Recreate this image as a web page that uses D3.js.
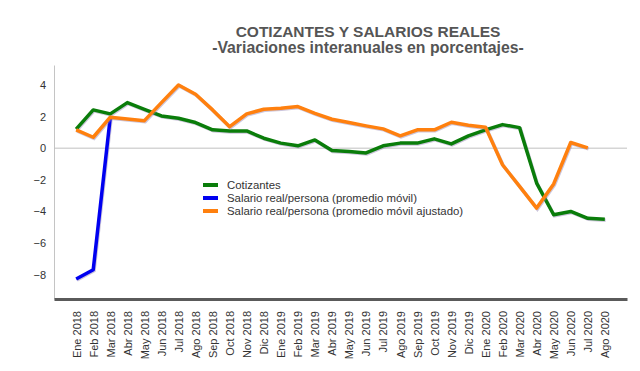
<!DOCTYPE html>
<html>
<head>
<meta charset="utf-8">
<script src="https://cdn.jsdelivr.net/npm/d3@7"></script>
<style>
  body { margin: 0; background: #fff; }
  svg { font-family: Arial, "Liberation Sans", sans-serif; }
  .title { font-weight: bold; fill: #555; }
  .tick text { fill: #333; font-size: 11px; }
  .legend text { fill: #333; font-size: 11.4px; }
</style>
</head>
<body>
<svg width="640" height="371"></svg>
<script>
// months on the x axis
const months = ['Ene 2018','Feb 2018','Mar 2018','Abr 2018','May 2018','Jun 2018','Jul 2018','Ago 2018','Sep 2018','Oct 2018','Nov 2018','Dic 2018',
  'Ene 2019','Feb 2019','Mar 2019','Abr 2019','May 2019','Jun 2019','Jul 2019','Ago 2019','Sep 2019','Oct 2019','Nov 2019','Dic 2019',
  'Ene 2020','Feb 2020','Mar 2020','Abr 2020','May 2020','Jun 2020','Jul 2020','Ago 2020']

// series values
const cotizantes = [1.2, 2.42, 2.17, 2.88, 2.46, 2.04, 1.89, 1.62, 1.16, 1.09, 1.09, 0.63,
  0.32, 0.15, 0.52, -0.15, -0.21, -0.3, 0.15, 0.32, 0.32, 0.59, 0.27, 0.78,
  1.16, 1.49, 1.3, -2.21, -4.21, -4.0, -4.44, -4.49]

const salarioMovil = [-8.28, -7.69, 1.96, null, null, null, null, null, null, null, null, null,
  null, null, null, null, null, null, null, null, null, null, null, null,
  null, null, null, null, null, null, null, null]

const salarioAjustado = [1.16, 0.69, 1.96, 1.85, 1.74, 2.88, 4.0, 3.41, 2.42, 1.36, 2.17, 2.46,
  2.53, 2.63, 2.2, 1.83, 1.62, 1.41, 1.22, 0.78, 1.16, 1.16, 1.64, 1.45,
  1.33, -1.05, -2.42, -3.79, -2.26, 0.36, 0.02, null]

const yTicks = [-8, -6, -4, -2, 0, 2, 4]

const series = [
  {name: 'Cotizantes', values: cotizantes, color: '#0a7d0a'},
  {name: 'Salario real/persona (promedio móvil)', values: salarioMovil, color: '#0000f0'},
  {name: 'Salario real/persona (promedio móvil ajustado)', values: salarioAjustado, color: '#ff800e'}
]

const svg = d3.select('svg')

const plot = {left: 54, right: 627, top: 65, bottom: 299}

const x = d3.scalePoint()
  .domain(months)
  .range([plot.left, plot.right])
  .padding(1.3)

const y = d3.scaleLinear()
  .domain([-9.54, 5.26])
  .range([plot.bottom, plot.top])

// title
svg.append('text')
  .attr('class', 'title')
  .attr('x', 368).attr('y', 37)
  .attr('text-anchor', 'middle')
  .style('font-size', '15.5px')
  .text('COTIZANTES Y SALARIOS REALES')

svg.append('text')
  .attr('class', 'title')
  .attr('x', 368).attr('y', 53)
  .attr('text-anchor', 'middle')
  .style('font-size', '15.8px')
  .text('-Variaciones interanuales en porcentajes-')

// y axis
const yAxis = svg.append('g')
  .attr('transform', `translate(${plot.left},0)`)
  .call(d3.axisLeft(y).tickValues(yTicks).tickSize(0).tickPadding(8))

yAxis.select('.domain').attr('stroke', '#c4c4c4').attr('stroke-width', 1)

// zero line
svg.append('line')
  .attr('x1', plot.left).attr('x2', plot.right)
  .attr('y1', y(0)).attr('y2', y(0))
  .attr('stroke', '#c0c0c0')

// x axis
const xAxis = svg.append('g')
  .attr('transform', `translate(0,${plot.bottom})`)
  .call(d3.axisBottom(x).tickSize(0).tickPadding(0))

xAxis.select('.domain').attr('stroke', '#5a5a5a').attr('stroke-width', 3)
xAxis.selectAll('.tick text')
  .attr('transform', 'rotate(-90)')
  .attr('text-anchor', 'end')
  .attr('x', -12)
  .attr('y', 0)
  .attr('dy', '0.35em')

// lines
const line = d3.line()
  .defined(d => d != null)
  .x((d, i) => x(months[i]))
  .y(d => y(d))

const lines = svg.append('g')

series.forEach(s => {
  // faint shadow under each line
  lines.append('path')
    .attr('d', line(s.values))
    .attr('fill', 'none')
    .attr('stroke', '#8f7fb0')
    .attr('stroke-opacity', 0.45)
    .attr('stroke-width', 3.5)
    .attr('transform', 'translate(0.8,1)')

  lines.append('path')
    .attr('d', line(s.values))
    .attr('fill', 'none')
    .attr('stroke', s.color)
    .attr('stroke-width', 3.5)
    .attr('stroke-linejoin', 'round')
})

// legend
const legend = svg.append('g')
  .attr('class', 'legend')
  .attr('transform', 'translate(203,185)')

series.forEach((s, i) => {
  const row = legend.append('g').attr('transform', `translate(0,${i * 13})`)
  row.append('line')
    .attr('x1', 0).attr('x2', 15)
    .attr('stroke', s.color)
    .attr('stroke-width', 4)
  row.append('text')
    .attr('x', 24)
    .attr('dy', '0.35em')
    .text(s.name)
})
</script>
</body>
</html>
